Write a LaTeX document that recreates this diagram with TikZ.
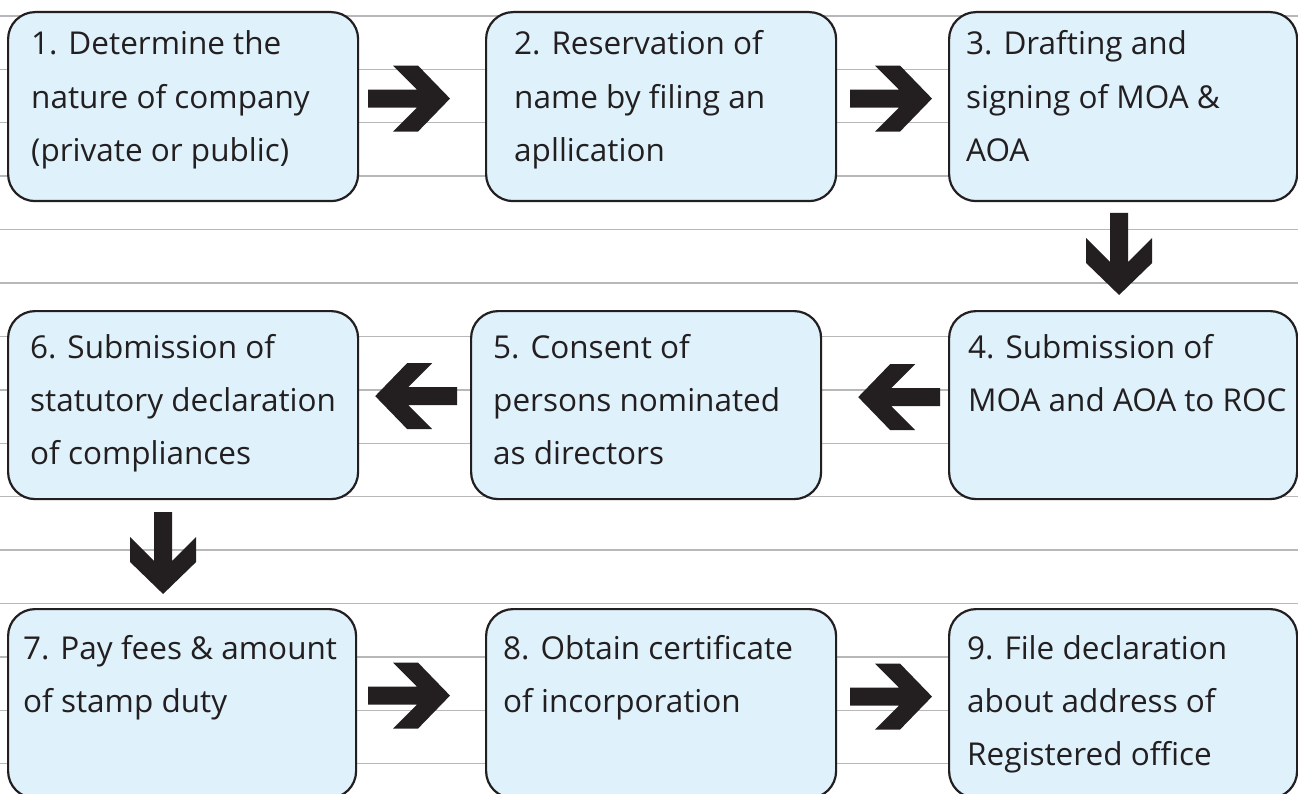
\documentclass[tikz,border=0pt]{standalone}
\usepackage{fontspec}
\setmainfont{Open Sans}
\usetikzlibrary{calc}
\definecolor{boxfill}{RGB}{223,242,251}
\definecolor{ink}{RGB}{35,31,32}
\definecolor{rule}{RGB}{184,184,186}
\tikzset{
  stepbox/.style={draw=ink, line width=2.2pt, fill=boxfill, rounded corners=27pt,
    minimum width=350pt, minimum height=189pt, anchor=north west, inner sep=0pt},
  % anchored at the baseline of the last line
  steptext/.style={anchor=base west, align=left, inner sep=0pt, text=ink,
    font=\fontsize{31.5}{53.4}\selectfont},
  pics/chev/.style={code={
    \fill[ink] (-82,-9) -- (-33,-9) -- (-57,-33) -- (-32,-33) -- (0,0)
      -- (-32,33) -- (-57,33) -- (-33,9) -- (-82,9) -- cycle;}}
}
\begin{document}
\begin{tikzpicture}[x=1pt,y=-1pt]
\useasboundingbox (0,0) rectangle (1298,794);
\clip (0,0) rectangle (1298,794);
\fill[white] (0,0) rectangle (1298,794);

% ruled lines across the page
\foreach \k in {0,...,14}
  \draw[rule, line width=1.4pt] (0,{16+53.4*\k}) -- (1298,{16+53.4*\k});

% step boxes
\node[stepbox] (b1) at (7,11) {};
\node[stepbox] (b2) at (485,11) {};
\node[stepbox, minimum width=348pt] (b3) at (948,11) {};
\node[stepbox, minimum width=348pt, minimum height=188pt] (b4) at (948,310) {};
\node[stepbox, minimum height=188pt] (b5) at (470,310) {};
\node[stepbox, minimum height=188pt] (b6) at (7,310) {};
\node[stepbox, minimum width=348pt] (b7) at (7,608) {};
\node[stepbox] (b8) at (485,608) {};
\node[stepbox, minimum width=348pt] (b9) at (948,608) {};

% step texts
\node[steptext] (t1) at ($(b1.north west)+(24,150.8)$) {1. Determine the\\nature of company\\(private or public)};
\node[steptext] (t2) at ($(b2.north west)+(29,150.8)$) {2. Reservation of\\name by filing an\\apllication};
\node[steptext] (t3) at ($(b3.north west)+(18,150.8)$) {3. Drafting and\\signing of MOA \&\\AOA};
\node[steptext] (t4) at ($(b4.north west)+(20,101.4)$) {4. Submission of\\MOA and AOA to ROC};
\node[steptext] (t5) at ($(b5.north west)+(23,154.8)$) {5. Consent of\\persons nominated\\as directors};
\node[steptext] (t6) at ($(b6.north west)+(23,154.8)$) {6. Submission of\\statutory declaration\\of compliances};
\node[steptext] (t7) at ($(b7.north west)+(16,104.4)$) {7. Pay fees \& amount\\of stamp duty};
\node[steptext] (t8) at ($(b8.north west)+(18,104.4)$) {8. Obtain certificate\\of incorporation};
\node[steptext] (t9) at ($(b9.north west)+(19,157.8)$) {9. File declaration\\about address of\\Registered office};

% block arrows between the steps
\pic at ($(b2.west)+(-35,-8)$) {chev};
\pic at ($(b3.west)+(-16,-8)$) {chev};
\pic[rotate=-90] at ($(b4.north)+(-4,-15)$) {chev};
\pic[rotate=180] at ($(b5.east)+(36,-8)$) {chev};
\pic[rotate=180] at ($(b6.east)+(16,-9)$) {chev};
\pic[rotate=-90] at ($(b7.north)+(-19,-14)$) {chev};
\pic at ($(b8.west)+(-35,-8)$) {chev};
\pic at ($(b9.west)+(-16,-7)$) {chev};
\end{tikzpicture}
\end{document}
